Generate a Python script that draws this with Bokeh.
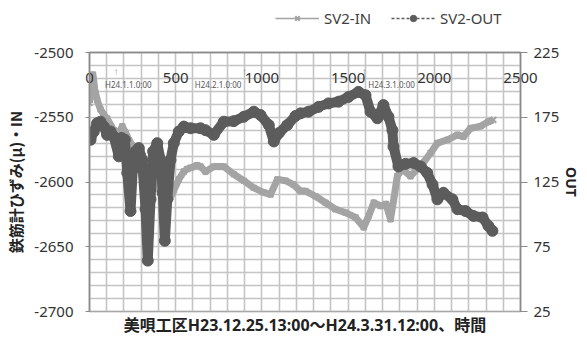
from datetime import datetime
from bokeh.plotting import figure
from bokeh.layouts import column
from bokeh.models import (LinearAxis, Range1d, SingleIntervalTicker, FixedTicker, Legend,
                          LegendItem, ColumnDataSource)
from bokeh.core.properties import value
from bokeh.embed import file_html
from bokeh.resources import INLINE

# ---- data (hours since H23.12.25 13:00) ----
in_hours = [0, 12, 20, 30, 45, 64, 83, 102, 141, 170, 190, 210, 230, 250, 270, 290, 310, 330,
            350, 370, 385, 400, 415, 430, 445, 470, 490, 518, 547, 567, 586, 625, 644, 673,
            721, 779, 837, 895, 953, 1009, 1050, 1090, 1137, 1183, 1224, 1253, 1311, 1369,
            1427, 1485, 1543, 1591, 1620, 1649, 1688, 1720, 1746, 1765, 1785, 1814, 1862,
            1937, 1978, 2018, 2076, 2134, 2169, 2210, 2268, 2314, 2343]
in_values = [-2539, -2521, -2517, -2528, -2537, -2544, -2548, -2551, -2560, -2562, -2557, -2562,
             -2568, -2572, -2575, -2577, -2580, -2586, -2590, -2596, -2605, -2603, -2610, -2617,
             -2616, -2612, -2606, -2598, -2592, -2590, -2589, -2587, -2588, -2592, -2588, -2588,
             -2594, -2599, -2604.5, -2608, -2609.6, -2598, -2599, -2602, -2607, -2607, -2611,
             -2616, -2621, -2623.6, -2627.4, -2635, -2626, -2616, -2618.5, -2617, -2628.7,
             -2613.4, -2595.5, -2590, -2595.5, -2585, -2577.6, -2570, -2567.4, -2563.6, -2565,
             -2558.5, -2557, -2553.4, -2552]

out_hours = [6, 25, 44, 64, 83, 102, 122, 141, 170, 186, 205, 219, 238, 251, 267, 286, 305, 325,
             338, 354, 369, 393, 412, 425, 437, 451, 470, 489, 518, 547, 586, 644, 673, 721, 779,
             837, 895, 953, 992, 1040, 1069, 1098, 1147, 1195, 1224, 1270, 1328, 1386, 1444,
             1502, 1560, 1601, 1630, 1670, 1705, 1734, 1757, 1763, 1792, 1833, 1880, 1920, 1959,
             1990, 2018, 2053, 2105, 2134, 2181, 2227, 2280, 2314, 2337]
out_values = [157.6, 164, 170.4, 171.6, 167.8, 161.4, 164, 160, 144.8, 159, 157.6, 132, 102.6,
              134.6, 148.6, 151.2, 142.2, 104, 64.3, 111.6, 148.6, 155, 142.2, 116.7, 79.6, 111.6,
              142, 155, 164, 167.8, 166.5, 166.5, 165, 161.4, 171.6, 172, 175.4, 179.3, 176.7, 169,
              156.3, 162.7, 169, 176, 178, 179.3, 183, 185.7, 187, 190.7, 194.6, 192, 179.3, 174.2,
              184.4, 175.4, 165, 152.4, 137, 139, 139.7, 137, 132, 123, 111.6, 116.7, 111.6, 104,
              102.6, 98.8, 97.6, 91.1, 87.3]

start = datetime(2011, 12, 25, 13, 0)
mark_dates = [datetime(2012, 1, 1), datetime(2012, 2, 1), datetime(2012, 3, 1)]
mark_labels = ["H24.1.1.0:00", "H24.2.1.0:00", "H24.3.1.0:00"]
mark_hours = [(d - start).total_seconds() / 3600 for d in mark_dates]

left_ticks = [-2700, -2650, -2600, -2550, -2500]
right_ticks = [25, 75, 125, 175, 225]
x_ticks = [0, 500, 1000, 1500, 2000, 2500]
series_names = ["SV2-IN", "SV2-OUT"]

FONT = "Noto Sans"
CJK = "Noto Sans CJK JP"
DARK = "#5c5c5c"
LIGHT = "#a4a4a4"
AXIS = "#8a8a8a"

# ---------------- main chart ----------------
p = figure(width=587, height=308, output_backend="svg", toolbar_location=None,
           tools="", x_range=Range1d(0, 2500), y_range=Range1d(-2700, -2500),
           min_border_left=89, min_border_right=67, min_border_top=22, min_border_bottom=25)
p.background_fill_color = "white"
p.border_fill_color = "white"
p.outline_line_color = AXIS
p.outline_line_width = 1.5

p.extra_y_ranges = {"out": Range1d(25, 225)}

# grid
p.xgrid.ticker = SingleIntervalTicker(interval=100)
p.ygrid.ticker = SingleIntervalTicker(interval=10)
for g in (p.xgrid, p.ygrid):
    g.grid_line_color = "#c4c4c4"
    g.grid_line_width = 1.6

# below axis: title only
xb = p.xaxis[0]
xb.ticker = FixedTicker(ticks=[])
xb.axis_label = "美唄工区H23.12.25.13:00～H24.3.31.12:00、時間"
xb.axis_label_text_font = "Noto Sans, Noto Sans CJK JP"
xb.axis_label_text_font_style = "bold"
xb.axis_label_text_font_size = "16px"
xb.axis_label_text_color = "#222222"
xb.axis_label_standoff = 2
xb.major_label_standoff = 0
xb.major_tick_out = 0
xb.major_tick_in = 0
xb.major_tick_line_color = None
xb.minor_tick_line_color = None
xb.axis_line_color = "#a8a8a8"

# top axis, its labels drawn just inside the plot
xt = LinearAxis(ticker=FixedTicker(ticks=x_ticks))
xt.major_label_standoff = -30
xt.major_tick_in = 0
xt.major_tick_out = 0
xt.minor_tick_line_color = None
xt.axis_line_color = AXIS
xt.axis_line_width = 1.5
xt.major_label_text_font = FONT
xt.major_label_text_font_size = "15px"
xt.major_label_text_color = "#333333"
p.add_layout(xt, "above")

# left axis
yl = p.yaxis[0]
yl.ticker = FixedTicker(ticks=left_ticks)
yl.major_label_overrides = {t: str(t) for t in left_ticks}
yl.minor_tick_line_color = None
yl.major_tick_in = 0
yl.major_tick_out = 4
yl.major_label_standoff = 12
yl.axis_line_color = AXIS
yl.axis_line_width = 1.5
yl.major_tick_line_color = AXIS
yl.major_label_text_font = FONT
yl.major_label_text_font_size = "15px"
yl.major_label_text_color = "#333333"
yl.axis_label = "鉄筋計ひずみ(μ)・IN"
yl.axis_label_text_font = CJK
yl.axis_label_text_font_style = "bold"
yl.axis_label_text_font_size = "15px"
yl.axis_label_text_color = "#222222"
yl.axis_label_standoff = 5

# right axis
yr = LinearAxis(y_range_name="out", ticker=FixedTicker(ticks=right_ticks))
yr.minor_tick_line_color = None
yr.major_tick_in = 0
yr.major_tick_out = 7
yr.major_label_standoff = 6
yr.axis_line_color = AXIS
yr.axis_line_width = 1.5
yr.major_tick_line_color = AXIS
yr.major_label_text_font = FONT
yr.major_label_text_font_size = "15px"
yr.major_label_text_color = "#333333"
yr.axis_label = "OUT"
yr.axis_label_text_font = FONT
yr.axis_label_text_font_style = "bold"
yr.axis_label_text_font_size = "14px"
yr.axis_label_text_color = "#222222"
yr.axis_label_standoff = 0
p.add_layout(yr, "right")

# series
src_in = ColumnDataSource(dict(x=in_hours, y=in_values))
src_out = ColumnDataSource(dict(x=out_hours, y=out_values))
p.line("x", "y", source=src_in, line_color=LIGHT, line_width=7, line_join="round")
p.scatter("x", "y", source=src_in, marker="x", size=8, line_color=LIGHT, line_width=2)
p.line("x", "y", source=src_out, y_range_name="out", line_color=DARK, line_width=10,
       line_join="round", line_cap="round")
p.scatter("x", "y", source=src_out, y_range_name="out", marker="circle", size=11,
          fill_color=DARK, line_color=DARK)

# date annotations
text_offsets = [-65, -288, 22]
arrow_y = [-2514] * 3
label_y = [-2524.4] * 3
p.text(x=mark_hours, y=arrow_y, text=["↑"] * 3, text_font=value(FONT), text_font_size="10px",
       text_color="#9a9a9a", text_align="center", text_baseline="middle")
p.text(x=[h + o for h, o in zip(mark_hours, text_offsets)], y=label_y, text=mark_labels,
       text_font=value(FONT), text_font_size="8px", text_color="#555555",
       text_align="left", text_baseline="middle")

# ---------------- legend strip on top ----------------
lf = figure(width=587, height=30, output_backend="svg", toolbar_location=None, tools="",
            x_range=Range1d(0, 1), y_range=Range1d(0, 1), min_border=0,
            x_axis_location=None, y_axis_location=None)
lf.grid.visible = False
lf.outline_line_color = None
lf.background_fill_color = "white"
lf.border_fill_color = "white"

# proxy renderers (their single point lies outside the strip's ranges, so only the legend shows)
proxy = ColumnDataSource(dict(x=[-5], y=[-5]))
l_in = lf.line("x", "y", source=proxy, line_color=LIGHT, line_width=1.5)
s_in = lf.scatter("x", "y", source=proxy, marker="x", size=7, line_color=LIGHT, line_width=2)
l_out = lf.line("x", "y", source=proxy, line_color=DARK, line_width=1.5, line_dash="3 2")
s_out = lf.scatter("x", "y", source=proxy, marker="circle", size=8, fill_color=DARK,
                   line_color=DARK)

legend_positions = [(186, 2), (302, 2)]
legend_renderers = [[l_in, s_in], [l_out, s_out]]
for name, rends, loc in zip(series_names, legend_renderers, legend_positions):
    lg = Legend(items=[LegendItem(label=name, renderers=rends, index=0)], location=loc,
                orientation="horizontal")
    lg.glyph_width = 44
    lg.glyph_height = 16
    lg.label_height = 16
    lg.label_standoff = 5
    lg.padding = 0
    lg.margin = 0
    lg.border_line_color = None
    lg.background_fill_alpha = 0
    lg.label_text_font = FONT
    lg.label_text_font_size = "15px"
    lg.label_text_color = "#404040"
    lf.add_layout(lg, "center")

layout = column(lf, p, spacing=0)
open("out.html", "w").write(file_html(layout, INLINE))
